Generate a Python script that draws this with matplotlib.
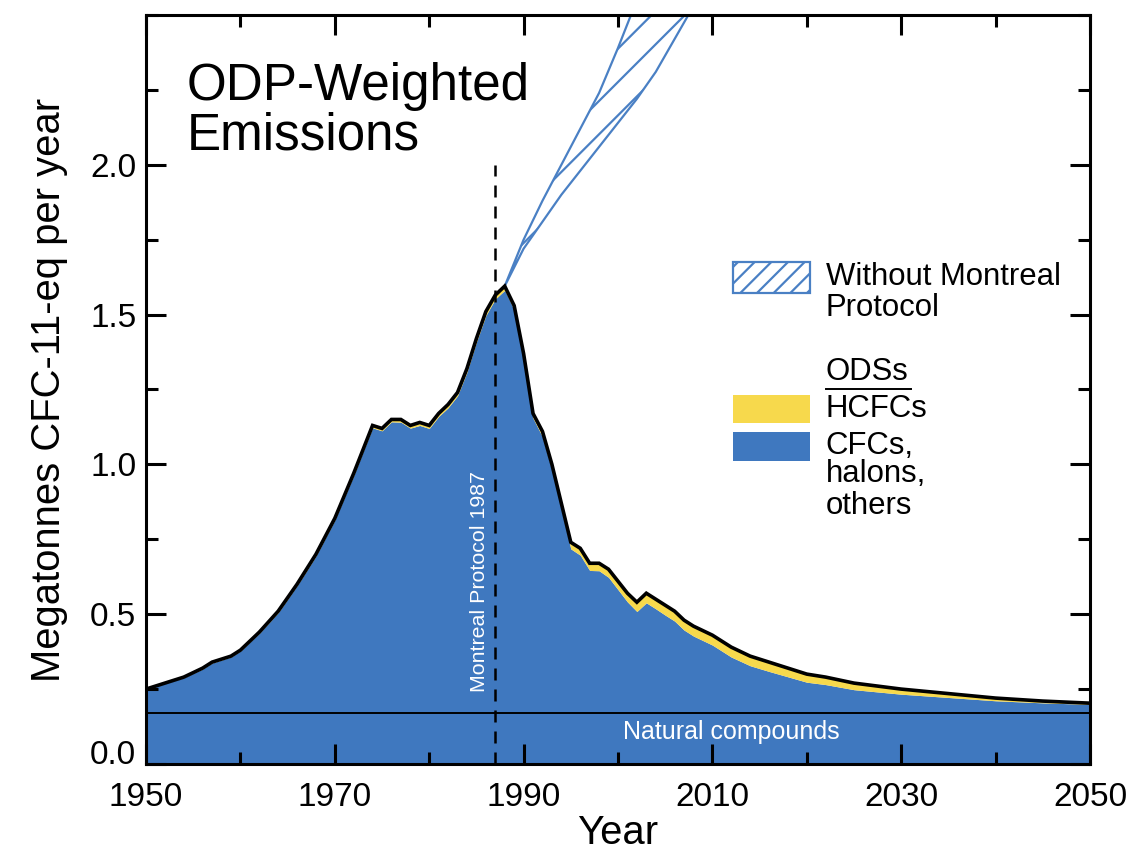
"""
ODP-weighted emissions: CFCs/halons vs HCFCs, with the no-Montreal-Protocol band.
"""

import matplotlib

matplotlib.use("Agg")
import matplotlib.pyplot as plt
import numpy as np
from matplotlib.lines import Line2D
from matplotlib.patches import Rectangle
from matplotlib.ticker import FormatStrFormatter, MultipleLocator

# --- data -----------------------------------------------------------------
YEARS = [1950, 1952, 1954, 1956, 1957, 1959, 1960, 1962, 1964, 1966,
         1968, 1970, 1972, 1973, 1974, 1975, 1976, 1977, 1978, 1979,
         1980, 1981, 1982, 1983, 1984, 1985, 1986, 1987, 1988, 1989,
         1990, 1991, 1992, 1993, 1994, 1995, 1996, 1997, 1998, 1999,
         2000, 2001, 2002, 2003, 2004, 2005, 2006, 2007, 2008, 2010,
         2012, 2014, 2016, 2018, 2020, 2022, 2025, 2030, 2035, 2040,
         2045, 2050]
TOTAL = [0.25, 0.27, 0.29, 0.32, 0.34, 0.36, 0.38, 0.44, 0.51, 0.60,
         0.70, 0.82, 0.97, 1.05, 1.13, 1.12, 1.15, 1.15, 1.13, 1.14,
         1.13, 1.17, 1.20, 1.24, 1.32, 1.42, 1.51, 1.565, 1.595, 1.53,
         1.37, 1.17, 1.11, 1.00, 0.87, 0.74, 0.72, 0.67, 0.67, 0.65,
         0.61, 0.57, 0.54, 0.57, 0.55, 0.53, 0.51, 0.48, 0.46, 0.43,
         0.39, 0.36, 0.34, 0.32, 0.30, 0.29, 0.27, 0.25, 0.235, 0.22,
         0.21, 0.203]
HCFC = [0.0, 0.001, 0.002, 0.003, 0.003, 0.003, 0.003, 0.004, 0.005, 0.005,
        0.006, 0.006, 0.007, 0.007, 0.008, 0.008, 0.008, 0.009, 0.009, 0.01,
        0.01, 0.01, 0.011, 0.011, 0.012, 0.012, 0.013, 0.013, 0.014, 0.014,
        0.015, 0.016, 0.018, 0.019, 0.02, 0.022, 0.023, 0.024, 0.025, 0.027,
        0.028, 0.029, 0.031, 0.032, 0.032, 0.033, 0.033, 0.033, 0.033, 0.033,
        0.033, 0.032, 0.031, 0.029, 0.027, 0.025, 0.022, 0.017, 0.013, 0.009,
        0.006, 0.004]

NO_MP_YEARS = [1988, 1990, 1992, 1994, 1996, 1998, 2000, 2002, 2004, 2006, 2008]
NO_MP_LOW = [1.595, 1.72, 1.81, 1.90, 1.98, 2.06, 2.14, 2.22, 2.31, 2.42, 2.53]
NO_MP_HIGH = [1.595, 1.75, 1.88, 2.00, 2.12, 2.24, 2.39, 2.55, 2.70, 2.85, 3.00]

NATURAL = 0.17
PROTOCOL_YEAR = 1987
PROTOCOL_LINE_TOP = 2.0

X_TICKS = [1950, 1970, 1990, 2010, 2030, 2050]
Y_TICKS = [0.0, 0.5, 1.0, 1.5, 2.0]

BLUE = "#3F78BF"
YELLOW = "#F7D94C"
HATCH_BLUE = "#4A80C4"
DPI = 200


def main() -> None:
    plt.rcParams["font.family"] = ["Liberation Sans", "DejaVu Sans"]
    plt.rcParams["hatch.linewidth"] = 0.8

    years = np.array(YEARS, dtype=float)
    total = np.array(TOTAL)
    hcfc = np.array(HCFC)
    cfc_top = total - hcfc

    fig = plt.figure(figsize=(1138 / DPI, 852 / DPI), dpi=DPI)
    ax = fig.add_axes([0.1283, 0.1033, 0.8295, 0.8791])

    # stacked areas
    ax.fill_between(years, 0, NATURAL, color=BLUE, lw=0)
    ax.fill_between(years, NATURAL, cfc_top, color=BLUE, lw=0)
    ax.fill_between(years, cfc_top, total, color=YELLOW, lw=0)
    ax.plot(years, total, color="black", lw=1.3, solid_joinstyle="miter")
    ax.axhline(NATURAL, color="black", lw=0.7)

    # without Montreal Protocol
    ax.fill_between(NO_MP_YEARS, NO_MP_LOW, NO_MP_HIGH, facecolor="none",
                    edgecolor=HATCH_BLUE, hatch="//", lw=0.8)

    ax.vlines(PROTOCOL_YEAR, 0, PROTOCOL_LINE_TOP, colors="black", lw=0.9,
              linestyles=(0, (4.8, 3.6)))
    ax.text(PROTOCOL_YEAR - 1.7, 0.61, "Montreal Protocol 1987", color="white",
            rotation=90, ha="center", va="center", fontsize=7.7)
    ax.text(2012, 0.107, "Natural compounds", color="white",
            ha="center", va="center", fontsize=9)

    ax.text(0.043, 0.8865, "ODP-Weighted", transform=ax.transAxes,
            fontsize=18.4, va="baseline")
    ax.text(0.043, 0.820, "Emissions", transform=ax.transAxes,
            fontsize=18.4, va="baseline")

    # legend, drawn by hand
    lx, lw_ = 0.622, 0.0816
    ax.add_patch(Rectangle((lx, 0.629), lw_, 0.0414, transform=ax.transAxes,
                           facecolor="none", edgecolor=HATCH_BLUE, hatch="////",
                           lw=0.8))
    ax.add_patch(Rectangle((lx, 0.455), lw_, 0.0374, transform=ax.transAxes,
                           facecolor=YELLOW, lw=0))
    ax.add_patch(Rectangle((lx, 0.4045), lw_, 0.0387, transform=ax.transAxes,
                           facecolor=BLUE, lw=0))
    tx = 0.720
    for text, y in [("Without Montreal", 0.639), ("Protocol", 0.598),
                    ("ODSs", 0.513), ("HCFCs", 0.463), ("CFCs,", 0.414),
                    ("halons,", 0.376), ("others", 0.334)]:
        ax.text(tx, y, text, transform=ax.transAxes, fontsize=11.2,
                va="baseline")
    ax.add_line(Line2D([tx, tx + 0.09], [0.5007, 0.5007],
                       transform=ax.transAxes, color="black", lw=0.7))

    ax.set_xlim(1950, 2050)
    ax.set_ylim(0, 2.5)
    ax.set_xticks(X_TICKS)
    ax.set_yticks(Y_TICKS)
    ax.xaxis.set_minor_locator(MultipleLocator(10))
    ax.yaxis.set_minor_locator(MultipleLocator(0.25))
    ax.yaxis.set_major_formatter(FormatStrFormatter("%.1f"))
    ax.tick_params(which="both", direction="in", top=True, right=True,
                   width=1.1, labelsize=12)
    ax.tick_params(which="major", length=7.2)
    ax.tick_params(axis="y", which="major", pad=3.5)
    ax.tick_params(axis="x", which="major", pad=6.5)
    ax.tick_params(which="minor", length=4.3)
    for sp in ax.spines.values():
        sp.set_linewidth(1.1)

    # the 0.0 label sits a little above its tick, as in the original
    ax.get_yticklabels()[0].set_verticalalignment("baseline")

    ax.set_xlabel("Year", fontsize=14.4, labelpad=0.5)
    ax.set_ylabel("Megatonnes CFC-11-eq per year", fontsize=14.4, labelpad=8)

    fig.savefig("out.png", dpi=DPI)


if __name__ == "__main__":
    main()
